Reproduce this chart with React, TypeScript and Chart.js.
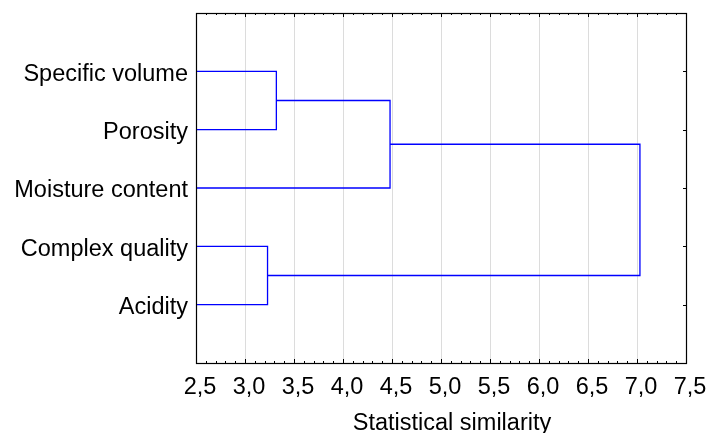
import React, { useEffect, useRef } from "react";
import { Chart, registerables } from "chart.js";

Chart.register(...registerables);

// Leaves (top to bottom)
const categories = ["Specific volume", "Porosity", "Moisture content", "Complex quality", "Acidity"];
// Linkage: node ids 0..4 are leaves, 5.. are merges in order
const mergeLeft = [0, 3, 5, 7];
const mergeRight = [1, 4, 2, 6];
const mergeHeight = [3.32, 3.23, 4.48, 7.03];
// X axis
const xMin = 2.5;
const xMax = 7.5;
const xStep = 0.5;
const xMinorStep = 0.1;
const xTitle = "Statistical similarity";

const FONT = '"Liberation Sans", Arial, sans-serif';

function buildDatasets() {
  const nodeX: number[] = categories.map(() => xMin);
  const nodeY: number[] = categories.map((_, i) => i + 1);
  const datasets: any[] = [];
  mergeHeight.forEach((h, k) => {
    const a = mergeLeft[k];
    const b = mergeRight[k];
    datasets.push({
      data: [
        { x: nodeX[a], y: nodeY[a] },
        { x: h, y: nodeY[a] },
        { x: h, y: nodeY[b] },
        { x: nodeX[b], y: nodeY[b] },
      ],
      borderColor: "#0000ff",
      borderWidth: 1.3,
      pointRadius: 0,
      fill: false,
      tension: 0,
    });
    nodeX.push(h);
    nodeY.push((nodeY[a] + nodeY[b]) / 2);
  });
  return datasets;
}

const framePlugin = {
  id: "frame",
  beforeDatasetsDraw(chart: any) {
    const { ctx, chartArea, scales } = chart;
    const { right, top, bottom } = chartArea;
    ctx.save();
    ctx.strokeStyle = "#000";
    ctx.lineWidth = 1;
    const n = Math.round((xMax - xMin) / xMinorStep);
    for (let i = 0; i <= n; i++) {
      const v = xMin + i * xMinorStep;
      const px = Math.round(scales.x.getPixelForValue(v)) + 0.5;
      const major = Math.abs(v / xStep - Math.round(v / xStep)) < 1e-6;
      const len = major ? 4 : 2;
      ctx.beginPath();
      ctx.moveTo(px, bottom);
      ctx.lineTo(px, bottom - len);
      ctx.moveTo(px, top);
      ctx.lineTo(px, top + len);
      ctx.stroke();
    }
    categories.forEach((_, i) => {
      const py = Math.round(scales.y.getPixelForValue(i + 1)) + 0.5;
      ctx.beginPath();
      ctx.moveTo(right, py);
      ctx.lineTo(right - 3, py);
      ctx.stroke();
    });
    ctx.restore();
  },
  afterDraw(chart: any) {
    const { ctx, chartArea } = chart;
    const { left, right, top, bottom } = chartArea;
    ctx.save();
    ctx.strokeStyle = "#000";
    ctx.lineWidth = 1.2;
    ctx.strokeRect(Math.round(left) + 0.5, Math.round(top) + 0.5, Math.round(right - left), Math.round(bottom - top));
    ctx.fillStyle = "#000";
    ctx.font = `23.5px ${FONT}`;
    ctx.textAlign = "center";
    ctx.textBaseline = "alphabetic";
    ctx.fillText(xTitle, (left + right) / 2 + 11, 430);
    ctx.restore();
  },
};

export default function App() {
  const ref = useRef<HTMLCanvasElement>(null);
  useEffect(() => {
    document.body.style.margin = "0";
    const chart = new Chart(ref.current!, {
      type: "line",
      data: { datasets: buildDatasets() },
      options: {
        animation: false,
        responsive: false,
        maintainAspectRatio: false,
        layout: { padding: { top: 13, right: 24, left: 0, bottom: 0 } },
        plugins: { legend: { display: false }, tooltip: { enabled: false } },
        scales: {
          x: {
            type: "linear",
            min: xMin,
            max: xMax,
            afterFit: (s: any) => {
              s.height = 70;
              s.paddingLeft = 0;
              s.paddingRight = 0;
            },
            ticks: {
              stepSize: xStep,
              color: "#000",
              font: { family: FONT, size: 23.5 },
              padding: 10,
              labelOffset: 4,
              maxRotation: 0,
              callback: (v: any) => Number(v).toFixed(1).replace(".", ","),
            },
            grid: {
              color: "#dcdcdc",
              lineWidth: 1,
              drawTicks: false,
            },
            border: { display: false },
          },
          y: {
            type: "linear",
            min: 0,
            max: 6,
            reverse: true,
            afterFit: (s: any) => {
              s.width = 196;
              s.paddingTop = 0;
              s.paddingBottom = 0;
            },
            ticks: {
              stepSize: 1,
              autoSkip: false,
              color: "#000",
              font: { family: FONT, size: 23.5 },
              padding: 8,
              labelOffset: 3,
              callback: (v: any) => {
                const i = Math.round(Number(v)) - 1;
                return i >= 0 && i < categories.length ? categories[i] : "";
              },
            },
            grid: { display: false, drawTicks: false },
            border: { display: false },
          },
        },
      },
      plugins: [framePlugin],
    });
    return () => chart.destroy();
  }, []);
  return (
    <div style={{ width: 710, height: 433 }}>
      <canvas ref={ref} width={710} height={433} style={{ width: 710, height: 433, display: "block" }} />
    </div>
  );
}
